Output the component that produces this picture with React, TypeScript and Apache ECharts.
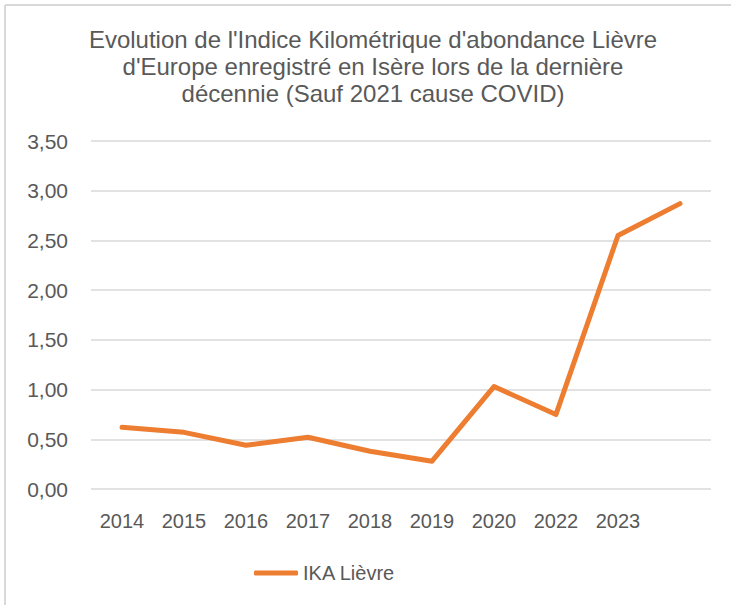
import React, { useEffect, useRef } from "react";
import * as echarts from "echarts";

const years = ["2014", "2015", "2016", "2017", "2018", "2019", "2020", "2022", "2023", ""];
const ikaLievre = [0.62, 0.57, 0.44, 0.52, 0.38, 0.28, 1.03, 0.75, 2.55, 2.87];
const seriesName = "IKA Lièvre";
const titleText =
  "Evolution de l'Indice Kilométrique d'abondance Lièvre\nd'Europe enregistré en Isère lors de la dernière\ndécennie (Sauf 2021 cause COVID)";

export default function App() {
  const ref = useRef<HTMLDivElement>(null);
  useEffect(() => {
    if (!ref.current) return;
    const chart = echarts.init(ref.current, null, { renderer: "svg" });
    const font = "'Liberation Sans', Arial, sans-serif";
    chart.setOption({
      animation: false,
      backgroundColor: "#ffffff",
      title: {
        text: titleText,
        left: 368,
        top: 21,
        textAlign: "center",
        textStyle: {
          fontFamily: font,
          fontSize: 24,
          fontWeight: "normal",
          color: "#595959",
          lineHeight: 27,
        },
      },
      graphic: [
        { type: "line", shape: { x1: 5, y1: 5, x2: 731, y2: 5 }, style: { stroke: "#d9d9d9", lineWidth: 2 } },
        { type: "line", shape: { x1: 5, y1: 5, x2: 5, y2: 605 }, style: { stroke: "#d9d9d9", lineWidth: 2 } },
      ],
      legend: {
        data: [seriesName],
        left: 249,
        top: 558,
        icon: "roundRect",
        itemWidth: 44,
        itemHeight: 5,
        itemGap: 10,
        textStyle: { fontFamily: font, fontSize: 20, color: "#595959" },
      },
      grid: { left: 91, right: 20, top: 141, bottom: 116, containLabel: false },
      xAxis: {
        type: "category",
        data: years,
        boundaryGap: true,
        axisLine: { show: false },
        axisTick: { show: false },
        axisLabel: { fontFamily: font, fontSize: 20, color: "#595959", margin: 22, interval: 0 },
      },
      yAxis: {
        type: "value",
        min: 0,
        max: 3.5,
        interval: 0.5,
        axisLine: { show: false },
        axisTick: { show: false },
        axisLabel: {
          fontFamily: font,
          fontSize: 21,
          color: "#595959",
          margin: 23,
          formatter: (v: number) => v.toFixed(2).replace(".", ","),
        },
        splitLine: { lineStyle: { color: "#d9d9d9", width: 1.5 } },
      },
      series: [
        {
          name: seriesName,
          type: "line",
          data: ikaLievre,
          symbol: "none",
          lineStyle: { color: "#ED7D31", width: 5, cap: "round", join: "round" },
          itemStyle: { color: "#ED7D31" },
        },
      ],
    });
    return () => chart.dispose();
  }, []);
  return (
    <div
      ref={ref}
      style={{ position: "absolute", left: 0, top: 0, width: 731, height: 605 }}
    />
  );
}
